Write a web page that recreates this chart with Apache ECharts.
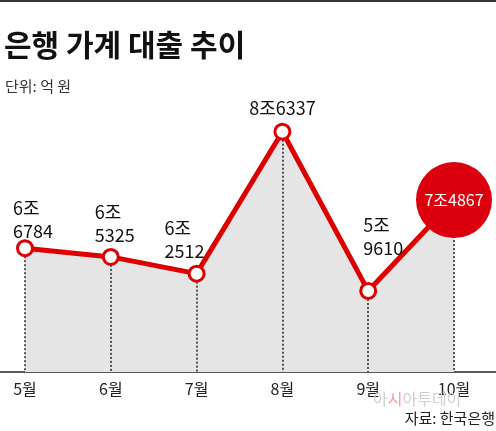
<!DOCTYPE html>
<html>
<head>
<meta charset="utf-8">
<script src="https://cdn.jsdelivr.net/npm/echarts@6/dist/echarts.min.js"></script>
<style>
html,body{margin:0;padding:0;background:#fff;}
#chart{width:496px;height:431px;}
</style>
</head>
<body>
<div id="chart"></div>
<script>
// 데이터 (억 원)
var months = ['5월', '6월', '7월', '8월', '9월', '10월'];
var loans = [66784, 65325, 62512, 86337, 59610, 74867];
var yMin = 46000;
var yMax = 92000;

var font = '"Noto Sans CJK KR", "Noto Sans", sans-serif';
var red = '#dd0000';

function fmt(v, br) {
    var jo = Math.floor(v / 10000);
    var rest = v % 10000;
    return jo + '조' + (br ? '\n' : '') + rest;
}

// 라벨 위치 (원본 그림에 맞춤)
var labelPos = [
    {dx: -12, dist: -3, br: true},
    {dx: -16, dist: 1, br: true},
    {dx: -32, dist: 2, br: true},
    {dx: 0, dist: 3, br: false},
    {dx: -5, dist: 22, br: true}
];

var pointData = loans.map(function (v, i) {
    if (i == loans.length - 1) {
        return {
            value: v,
            symbolSize: 76,
            itemStyle: {color: '#dc000e', borderColor: '#dc000e', borderWidth: 0},
            label: {
                show: true,
                position: 'inside',
                formatter: fmt(v, false),
                color: '#fff',
                fontSize: 16,
                fontFamily: font
            }
        };
    }
    var p = labelPos[i];
    return {
        value: v,
        label: {
            show: true,
            position: 'top',
            distance: p.dist,
            align: p.br ? 'left' : 'center',
            offset: [p.dx, 0],
            formatter: fmt(v, p.br),
            color: '#111',
            fontSize: 18,
            lineHeight: 23,
            fontFamily: font
        }
    };
});

var chart = echarts.init(document.getElementById('chart'));

var option = {
    animation: false,
    title: [
        {
            text: '은행 가계 대출 추이',
            left: -1,
            top: 25,
            textStyle: {fontSize: 30, fontWeight: 'bold', color: '#111', fontFamily: font}
        },
        {
            text: '단위: 억 원',
            left: 0,
            top: 74,
            textStyle: {fontSize: 15, fontWeight: 'normal', color: '#333', fontFamily: font}
        }
    ],
    grid: {left: 25, right: 42, top: 98, bottom: 59},
    xAxis: {
        type: 'category',
        data: months,
        boundaryGap: false,
        axisLine: {show: false},
        axisTick: {show: false},
        axisLabel: {fontSize: 16, color: '#222', margin: 9, fontFamily: font}
    },
    yAxis: {
        type: 'value',
        min: yMin,
        max: yMax,
        show: false,
        splitLine: {show: false}
    },
    series: [
        { // 회색 영역
            type: 'line',
            data: loans,
            symbol: 'none',
            lineStyle: {width: 0},
            areaStyle: {color: '#e5e5e5', opacity: 1, origin: 'start'},
            z: 1,
            silent: true
        },
        { // 점선
            type: 'line',
            data: loans,
            symbol: 'none',
            lineStyle: {width: 0},
            z: 2,
            silent: true,
            markLine: {
                z: 2,
                symbol: 'none',
                silent: true,
                label: {show: false},
                lineStyle: {color: '#222', width: 1.5, type: [2, 2]},
                data: loans.map(function (v, i) {
                    return [{coord: [i, v]}, {coord: [i, yMin]}];
                })
            }
        },
        {
            type: 'line',
            data: pointData,
            symbol: 'circle',
            symbolSize: 15,
            showAllSymbol: true,
            lineStyle: {color: red, width: 5},
            itemStyle: {color: '#fff', borderColor: red, borderWidth: 3},
            z: 3
        }
    ],
    graphic: [
        {type: 'rect', left: 0, top: 0, shape: {width: 496, height: 2}, style: {fill: '#333'}},
        {type: 'line', shape: {x1: 0, y1: 372, x2: 496, y2: 372}, style: {stroke: '#222', lineWidth: 1.5}},
        {
            type: 'text',
            left: 373,
            top: 391,
            z: 10,
            style: {
                text: '아{r|시}아투데이',
                fill: '#cfcfcf',
                font: '16px ' + font,
                rich: {r: {fill: '#f3a0a0', fontSize: 16, fontFamily: font}}
            }
        },
        {
            type: 'text',
            right: 1,
            top: 411,
            style: {text: '자료: 한국은행', fill: '#222', font: '15px ' + font}
        }
    ]
};

chart.setOption(option);

window.onresize = function () {
    chart.resize();
};
</script>
</body>
</html>
